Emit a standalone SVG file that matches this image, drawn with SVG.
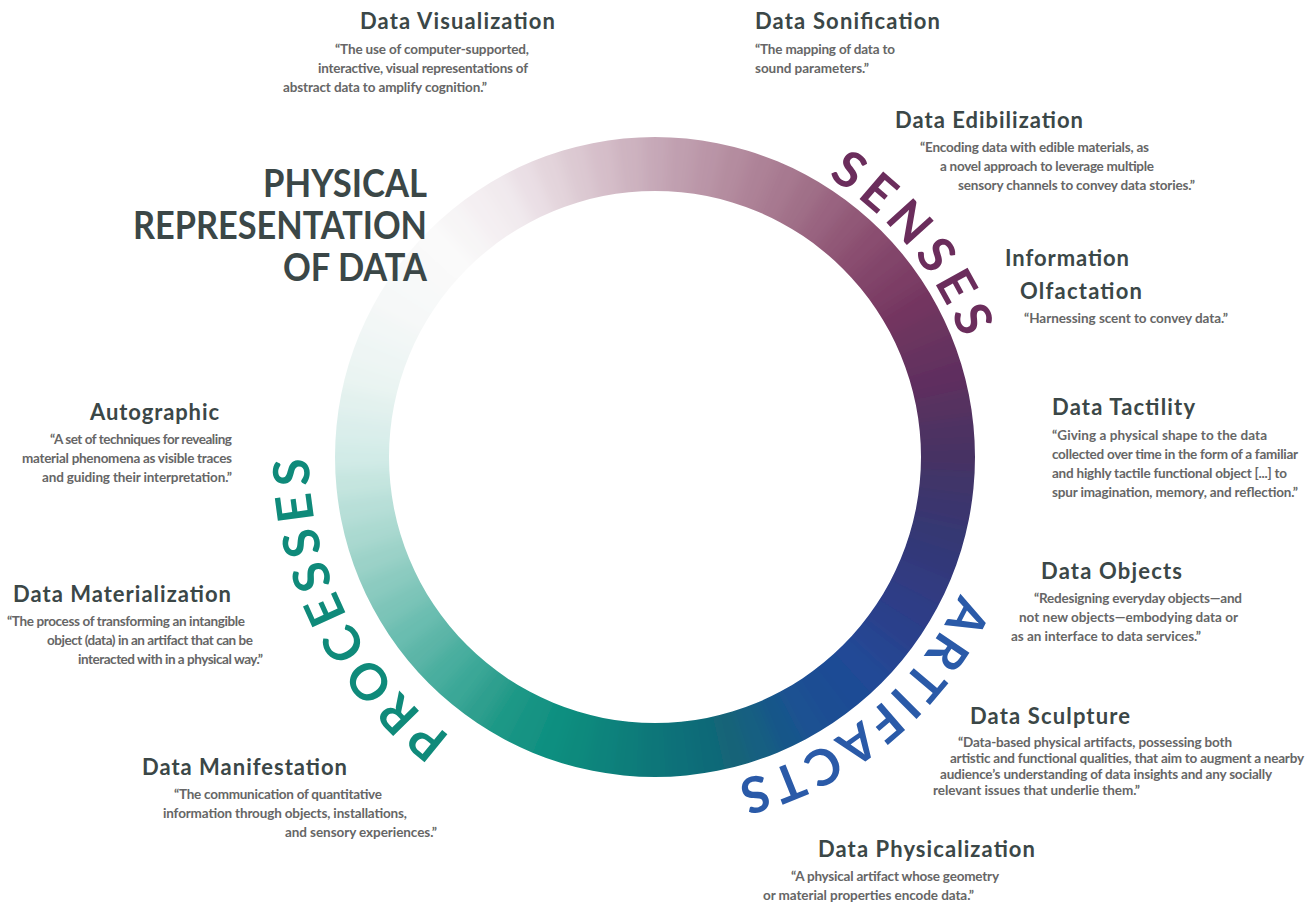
<svg xmlns="http://www.w3.org/2000/svg" width="1315" height="905" viewBox="0 0 1315 905">
<style>
.h{font-family:Lato,"Noto Sans",sans-serif;font-weight:700;font-size:22px;fill:#3b4747}
.d{font-family:Lato,"Noto Sans",sans-serif;font-weight:700;font-size:13.5px;fill:#666666}
.t{font-family:Lato,"Noto Sans",sans-serif;font-weight:700;font-size:38px;fill:#3b4747}
.arc{font-family:Lato,"Noto Sans",sans-serif;font-weight:700;font-size:50px}
</style>
<defs>
<clipPath id="ringClip"><path clip-rule="evenodd" d="M655,137 A320,320 0 1 1 655,777 A320,320 0 1 1 655,137 Z M655,191 A266,266 0 1 0 655,723 A266,266 0 1 0 655,191 Z"/></clipPath>
<filter id="bl" x="-20%" y="-20%" width="140%" height="140%"><feGaussianBlur stdDeviation="7"/></filter>
<circle id="seg" cx="655" cy="457" r="293" fill="none" stroke-width="90" stroke-dasharray="27 1900"/>
<path id="pS" d="M655,128 A329,329 0 1 1 655,786 A329,329 0 1 1 655,128"/>
<path id="pA" d="M655,123 A334,334 0 1 1 655,791 A334,334 0 1 1 655,123"/>
<path id="pP" d="M655,111 A346,346 0 1 1 655,803 A346,346 0 1 1 655,111"/>
</defs>
<rect width="1315" height="905" fill="#ffffff"/>
<g id="ring" clip-path="url(#ringClip)">
<g filter="url(#bl)">
<use href="#seg" transform="rotate(-92.5 655 457)" stroke="#c6a8b7"/>
<use href="#seg" transform="rotate(-87.5 655 457)" stroke="#c09faf"/>
<use href="#seg" transform="rotate(-82.5 655 457)" stroke="#ba95a7"/>
<use href="#seg" transform="rotate(-77.5 655 457)" stroke="#b48c9f"/>
<use href="#seg" transform="rotate(-72.5 655 457)" stroke="#ad8297"/>
<use href="#seg" transform="rotate(-67.5 655 457)" stroke="#a77990"/>
<use href="#seg" transform="rotate(-62.5 655 457)" stroke="#a06f88"/>
<use href="#seg" transform="rotate(-57.5 655 457)" stroke="#996480"/>
<use href="#seg" transform="rotate(-52.5 655 457)" stroke="#915877"/>
<use href="#seg" transform="rotate(-47.5 655 457)" stroke="#8a4d6f"/>
<use href="#seg" transform="rotate(-42.5 655 457)" stroke="#82456a"/>
<use href="#seg" transform="rotate(-37.5 655 457)" stroke="#7b3e65"/>
<use href="#seg" transform="rotate(-32.5 655 457)" stroke="#733660"/>
<use href="#seg" transform="rotate(-27.5 655 457)" stroke="#6c345f"/>
<use href="#seg" transform="rotate(-22.5 655 457)" stroke="#65315f"/>
<use href="#seg" transform="rotate(-17.5 655 457)" stroke="#5e2f5e"/>
<use href="#seg" transform="rotate(-12.5 655 457)" stroke="#563060"/>
<use href="#seg" transform="rotate(-7.5 655 457)" stroke="#4e3162"/>
<use href="#seg" transform="rotate(-2.5 655 457)" stroke="#463264"/>
<use href="#seg" transform="rotate(2.5 655 457)" stroke="#413469"/>
<use href="#seg" transform="rotate(7.5 655 457)" stroke="#3b356e"/>
<use href="#seg" transform="rotate(12.5 655 457)" stroke="#363773"/>
<use href="#seg" transform="rotate(17.5 655 457)" stroke="#333979"/>
<use href="#seg" transform="rotate(22.5 655 457)" stroke="#303a80"/>
<use href="#seg" transform="rotate(27.5 655 457)" stroke="#2d3c86"/>
<use href="#seg" transform="rotate(32.5 655 457)" stroke="#29408b"/>
<use href="#seg" transform="rotate(37.5 655 457)" stroke="#264491"/>
<use href="#seg" transform="rotate(42.5 655 457)" stroke="#224896"/>
<use href="#seg" transform="rotate(47.5 655 457)" stroke="#1f4b95"/>
<use href="#seg" transform="rotate(52.5 655 457)" stroke="#1d4e93"/>
<use href="#seg" transform="rotate(57.5 655 457)" stroke="#1a5192"/>
<use href="#seg" transform="rotate(62.5 655 457)" stroke="#175789"/>
<use href="#seg" transform="rotate(67.5 655 457)" stroke="#155e81"/>
<use href="#seg" transform="rotate(72.5 655 457)" stroke="#126478"/>
<use href="#seg" transform="rotate(77.5 655 457)" stroke="#106a78"/>
<use href="#seg" transform="rotate(82.5 655 457)" stroke="#0d7079"/>
<use href="#seg" transform="rotate(87.5 655 457)" stroke="#0b7679"/>
<use href="#seg" transform="rotate(92.5 655 457)" stroke="#0b7d7a"/>
<use href="#seg" transform="rotate(97.5 655 457)" stroke="#0a837c"/>
<use href="#seg" transform="rotate(102.5 655 457)" stroke="#0a8a7d"/>
<use href="#seg" transform="rotate(107.5 655 457)" stroke="#118f80"/>
<use href="#seg" transform="rotate(112.5 655 457)" stroke="#179383"/>
<use href="#seg" transform="rotate(117.5 655 457)" stroke="#1e9886"/>
<use href="#seg" transform="rotate(122.5 655 457)" stroke="#2d9f8e"/>
<use href="#seg" transform="rotate(127.5 655 457)" stroke="#3ba797"/>
<use href="#seg" transform="rotate(132.5 655 457)" stroke="#4aae9f"/>
<use href="#seg" transform="rotate(137.5 655 457)" stroke="#5bb5a7"/>
<use href="#seg" transform="rotate(142.5 655 457)" stroke="#6bbdb0"/>
<use href="#seg" transform="rotate(147.5 655 457)" stroke="#7cc4b8"/>
<use href="#seg" transform="rotate(152.5 655 457)" stroke="#8bcbc0"/>
<use href="#seg" transform="rotate(157.5 655 457)" stroke="#9bd2c8"/>
<use href="#seg" transform="rotate(162.5 655 457)" stroke="#aad9d0"/>
<use href="#seg" transform="rotate(167.5 655 457)" stroke="#b7dfd8"/>
<use href="#seg" transform="rotate(172.5 655 457)" stroke="#c5e5df"/>
<use href="#seg" transform="rotate(177.5 655 457)" stroke="#d2ebe7"/>
<use href="#seg" transform="rotate(182.5 655 457)" stroke="#daeeeb"/>
<use href="#seg" transform="rotate(187.5 655 457)" stroke="#e2f1ee"/>
<use href="#seg" transform="rotate(192.5 655 457)" stroke="#eaf4f2"/>
<use href="#seg" transform="rotate(197.5 655 457)" stroke="#eef5f4"/>
<use href="#seg" transform="rotate(202.5 655 457)" stroke="#f2f7f6"/>
<use href="#seg" transform="rotate(207.5 655 457)" stroke="#f6f8f8"/>
<use href="#seg" transform="rotate(212.5 655 457)" stroke="#f7f9f9"/>
<use href="#seg" transform="rotate(217.5 655 457)" stroke="#f9f9f9"/>
<use href="#seg" transform="rotate(222.5 655 457)" stroke="#fafafa"/>
<use href="#seg" transform="rotate(227.5 655 457)" stroke="#f7f5f6"/>
<use href="#seg" transform="rotate(232.5 655 457)" stroke="#f4eff2"/>
<use href="#seg" transform="rotate(237.5 655 457)" stroke="#f1eaee"/>
<use href="#seg" transform="rotate(242.5 655 457)" stroke="#eadfe5"/>
<use href="#seg" transform="rotate(247.5 655 457)" stroke="#e3d4db"/>
<use href="#seg" transform="rotate(252.5 655 457)" stroke="#dcc9d2"/>
<use href="#seg" transform="rotate(257.5 655 457)" stroke="#d5bec9"/>
<use href="#seg" transform="rotate(262.5 655 457)" stroke="#cdb3c0"/>
</g>
</g>

<g id="ring-labels">
<text class="arc" fill="#6b2d5c" letter-spacing="7"><textPath href="#pS" startOffset="292" text-anchor="middle">SENSES</textPath></text>
<text class="arc" fill="#2a5aa8" letter-spacing="5"><textPath href="#pA" startOffset="818" text-anchor="middle">ARTIFACTS</textPath></text>
<text class="arc" fill="#0f8a7a" letter-spacing="6"><textPath href="#pP" startOffset="1470" text-anchor="middle">PROCESSES</textPath></text>
</g>

<g id="title">
<text class="t" x="427" y="197" text-anchor="end" textLength="164" lengthAdjust="spacingAndGlyphs">PHYSICAL</text>
<text class="t" x="427" y="239" text-anchor="end" textLength="294" lengthAdjust="spacingAndGlyphs">REPRESENTATION</text>
<text class="t" x="427" y="281" text-anchor="end" textLength="144" lengthAdjust="spacingAndGlyphs">OF DATA</text>
</g>

<g id="data-visualization">
<text class="h" x="360" y="29" textLength="195">Data Visualization</text>
<text class="d" x="335" y="54" textLength="194">“The use of computer-supported,</text>
<text class="d" x="318" y="73" textLength="210">interactive, visual representations of</text>
<text class="d" x="283" y="92" textLength="204">abstract data to amplify cognition.”</text>
</g>

<g id="data-sonification">
<text class="h" x="755" y="29" textLength="185">Data Sonification</text>
<text class="d" x="755" y="54" textLength="140">“The mapping of data to</text>
<text class="d" x="755" y="73" textLength="114">sound parameters.”</text>
</g>

<g id="data-edibilization">
<text class="h" x="895" y="128" textLength="188">Data Edibilization</text>
<text class="d" x="920" y="152" textLength="229">“Encoding data with edible materials, as</text>
<text class="d" x="940" y="171" textLength="214">a novel approach to leverage multiple</text>
<text class="d" x="958" y="190" textLength="237">sensory channels to convey data stories.”</text>
</g>

<g id="information-olfactation">
<text class="h" x="1005" y="266" textLength="124">Information</text>
<text class="h" x="1020" y="299" textLength="122">Olfactation</text>
<text class="d" x="1024" y="323" textLength="204">“Harnessing scent to convey data.”</text>
</g>

<g id="data-tactility">
<text class="h" x="1052" y="415" textLength="143">Data Tactility</text>
<text class="d" x="1052" y="440" textLength="215">“Giving a physical shape to the data</text>
<text class="d" x="1052" y="459" textLength="246">collected over time in the form of a familiar</text>
<text class="d" x="1052" y="478" textLength="235">and highly tactile functional object [...] to</text>
<text class="d" x="1052" y="497" textLength="246">spur imagination, memory, and reflection.”</text>
</g>

<g id="data-objects">
<text class="h" x="1041" y="579" textLength="141">Data Objects</text>
<text class="d" x="1034" y="603" textLength="208">“Redesigning everyday objects—and</text>
<text class="d" x="1019" y="622" textLength="219">not new objects—embodying data or</text>
<text class="d" x="1011" y="641" textLength="190">as an interface to data services.”</text>
</g>

<g id="data-sculpture">
<text class="h" x="970" y="724" textLength="160">Data Sculpture</text>
<text class="d" x="958" y="747" textLength="274">“Data-based physical artifacts, possessing both</text>
<text class="d" x="950" y="763" textLength="354">artistic and functional qualities, that aim to augment a nearby</text>
<text class="d" x="940" y="779" textLength="332">audience’s understanding of data insights and any socially</text>
<text class="d" x="933" y="795" textLength="207">relevant issues that underlie them.”</text>
</g>

<g id="data-physicalization">
<text class="h" x="818" y="857" textLength="217">Data Physicalization</text>
<text class="d" x="791" y="881" textLength="208">“A physical artifact whose geometry</text>
<text class="d" x="763" y="900" textLength="211">or material properties encode data.”</text>
</g>

<g id="data-manifestation">
<text class="h" x="142" y="775" textLength="205">Data Manifestation</text>
<text class="d" x="174" y="799" textLength="208">“The communication of quantitative</text>
<text class="d" x="163" y="818" textLength="244">information through objects, installations,</text>
<text class="d" x="285" y="837" textLength="152">and sensory experiences.”</text>
</g>

<g id="data-materialization">
<text class="h" x="13" y="602" textLength="218">Data Materialization</text>
<text class="d" x="7" y="626" textLength="238">“The process of transforming an intangible</text>
<text class="d" x="47" y="645" textLength="206">object (data) in an artifact that can be</text>
<text class="d" x="78" y="664" textLength="185">interacted with in a physical way.”</text>
</g>

<g id="autographic">
<text class="h" x="90" y="420" textLength="129">Autographic</text>
<text class="d" x="50" y="444" textLength="182">“A set of techniques for revealing</text>
<text class="d" x="22" y="463" textLength="210">material phenomena as visible traces</text>
<text class="d" x="42" y="482" textLength="190">and guiding their interpretation.”</text>
</g>
</svg>
